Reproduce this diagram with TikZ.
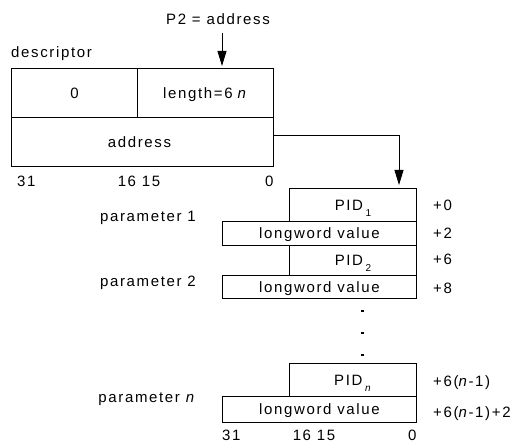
\documentclass[tikz,border=0pt]{standalone}
\usepackage{fontspec}
\setmainfont{Liberation Sans}[LetterSpace=11]
\usetikzlibrary{arrows.meta}
\tikzset{
  box/.style={draw, line width=0.9pt, inner sep=0pt, anchor=north west, text height=10.5pt, text depth=0pt, align=center},
  lbl/.style={inner sep=0pt},
  arr/.style={line width=0.9pt, -{Triangle[width=9pt,length=15pt]}},
  dotmark/.style={fill, inner sep=0pt, minimum size=2.2pt},
}
\newcommand{\pidsub}[1]{PID\,\raisebox{-6pt}{\fontsize{10}{10}\selectfont #1}}
\begin{document}
\begin{tikzpicture}[x=1pt, y=-1pt, every node/.style={font=\fontsize{15}{17}\selectfont}]
\useasboundingbox (0,0) rectangle (515,444);
% title and descriptor
\node[lbl, anchor=base] (p2) at (218,25) {P2 = address};
\node[lbl, anchor=base west] (desc) at (11,58) {descriptor};
\node[box, minimum width=126pt, minimum height=49pt] (d0) at (11,68) {0};
\node[box, minimum width=136pt, minimum height=49pt] (dlen) at (137,68) {length=6\,\,\textit{n}};
\node[box, minimum width=262pt, minimum height=49pt] (daddr) at (11,117) {address\hspace*{6pt}};
\node[lbl, anchor=base west] (t31) at (17,186) {31};
\node[lbl, anchor=base] (t1615) at (139,186) {16 15};
\node[lbl, anchor=base west] (t0) at (265,186) {0};
\coordinate (p2s) at (222,33);
\coordinate (p2e) at (222,66);
\draw[arr] (p2s) -- (p2e);
\coordinate (aout) at (273,135);
\coordinate (pin) at (399,185);
\draw[arr] (aout) -| (pin);
% parameter 1
\node[box, minimum width=127pt, minimum height=33pt] (pid1) at (289,188) {\pidsub{1}};
\node[box, minimum width=194pt, minimum height=24pt] (lw1) at (222,221) {longword value};
% parameter 2
\node[box, minimum width=127pt, minimum height=30pt] (pid2) at (289,245) {\pidsub{2}};
\node[box, minimum width=194pt, minimum height=23pt] (lw2) at (222,275) {longword value};
% parameter n
\node[box, minimum width=127pt, minimum height=33pt] (pidn) at (289,363) {\pidsub{\textit{n}}};
\node[box, minimum width=194pt, minimum height=26pt] (lwn) at (222,396) {longword value};
% dots
\node[dotmark] (dot1) at (362.5,311) {};
\node[dotmark] (dot2) at (362.5,333) {};
\node[dotmark] (dot3) at (362.5,355) {};
% parameter labels
\node[lbl, anchor=base east] (par1) at (196,222) {parameter 1};
\node[lbl, anchor=base east] (par2) at (196,287) {parameter 2};
\node[lbl, anchor=base east] (parn) at (196,402) {parameter \textit{n}};
% offsets
\node[lbl, anchor=base west] (o0) at (433,211) {+0};
\node[lbl, anchor=base west] (o2) at (433,238) {+2};
\node[lbl, anchor=base west] (o6) at (433,265) {+6};
\node[lbl, anchor=base west] (o8) at (433,293) {+8};
\node[lbl, anchor=base west] (on1) at (433,386) {+6(\textit{n}-1)};
\node[lbl, anchor=base west] (on2) at (433,417) {+6(\textit{n}-1)+2};
% bottom bit labels
\node[lbl, anchor=base west] (b31) at (222,440) {31};
\node[lbl, anchor=base] (b1615) at (314,440) {16 15};
\node[lbl, anchor=base west] (b0) at (408,440) {0};
\end{tikzpicture}
\end{document}
